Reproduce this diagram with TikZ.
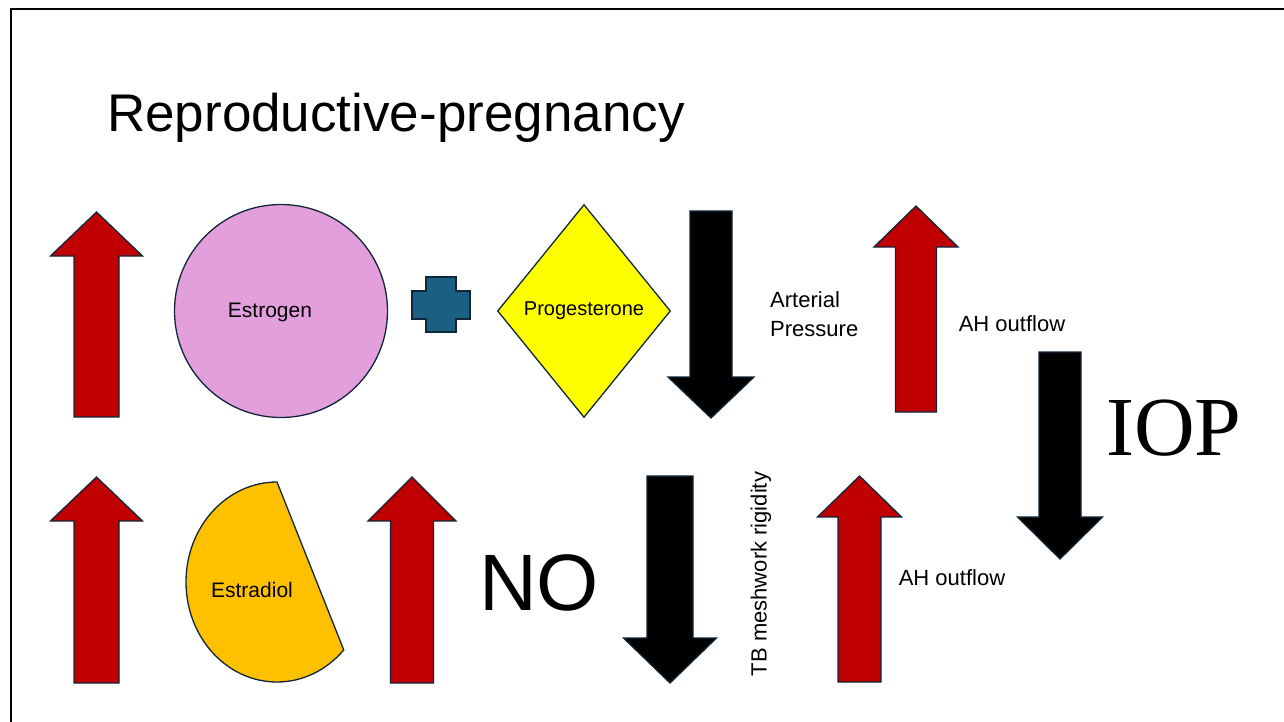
\documentclass[tikz,border=0pt]{standalone}
\usepackage{fontspec}
\setmainfont{Liberation Sans}
\newfontfamily\iopfont{Liberation Serif}
\usepackage{tikz}
\usetikzlibrary{shapes.geometric,positioning}
\usepackage{xcolor}
\definecolor{arrowred}{HTML}{C00000}
\definecolor{edgenavy}{HTML}{10263A}
\definecolor{estrogenpink}{HTML}{E29FDC}
\definecolor{estradiolgold}{HTML}{FFC000}
\definecolor{plusblue}{HTML}{1B6083}
\definecolor{progyellow}{HTML}{FFFF00}

\begin{document}
\begin{tikzpicture}[x=1pt, y=-1pt,
    uparrow/.style={draw=edgenavy, fill=arrowred, line width=1.3pt},
    downarrow/.style={draw=edgenavy, fill=black, line width=1.3pt},
    hormone/.style={draw=edgenavy, line width=1.3pt, align=center, inner sep=1pt, font=\fontsize{21}{24}\selectfont},
    lbl/.style={inner sep=0pt, font=\fontsize{22}{29}\selectfont}
]
\useasboundingbox (0,0) rectangle (1284,722);

% slide frame
\draw[line width=2pt] (10.5,722) -- (10.5,9.5) -- (1284,9.5);

\node[anchor=base west, inner sep=0pt, font=\fontsize{53}{60}\selectfont] (title) at (107,132) {Reproductive-pregnancy};

% red up arrows
\foreach \cx/\ty/\hb/\hh/\hs/\by in {96.5/212/256/46/22.5/417, 96.5/477/521/46/22.5/683, 412/477/521/44/21.5/683, 916/206/247/42/20.5/412, 859.5/476/517/42/21.5/682}
    \draw[uparrow] (\cx-\hs,\by) -- (\cx-\hs,\hb) -- (\cx-\hh,\hb) -- (\cx,\ty) -- (\cx+\hh,\hb) -- (\cx+\hs,\hb) -- (\cx+\hs,\by) -- cycle;

% black down arrows
\foreach \cx/\ty/\hb/\hh/\hs/\tip in {711/211/377/43/21/418, 670/476/638/46.5/23/683, 1060/352/517/42.5/21/559}
    \draw[downarrow] (\cx-\hs,\ty) -- (\cx+\hs,\ty) -- (\cx+\hs,\hb) -- (\cx+\hh,\hb) -- (\cx,\tip) -- (\cx-\hh,\hb) -- (\cx-\hs,\hb) -- cycle;

\node[hormone, circle, fill=estrogenpink, minimum size=213pt] (estrogen) at (281,311) {};
\node[lbl, font=\fontsize{21}{24}\selectfont] (estrogentext) at (270,312) {Estrogen};

% plus sign
\draw[draw=edgenavy, fill=plusblue, line width=1.3pt] (426,277) -- (456,277) -- (456,291) -- (470,291) -- (470,319) -- (456,319) -- (456,332) -- (426,332) -- (426,319) -- (412,319) -- (412,291) -- (426,291) -- cycle;

\node[hormone, diamond, fill=progyellow, inner sep=0pt, minimum width=173pt, minimum height=213pt, font=\fontsize{20}{24}\selectfont] (progesterone) at (584,311) {Progesterone};

% cut ellipse
\draw[draw=edgenavy, fill=estradiolgold, line width=1.3pt] (277,482) arc[start angle=270, end angle=42.8, x radius=91, y radius=100] -- cycle;
\node[lbl, font=\fontsize{21}{24}\selectfont] (estradiol) at (252,590) {Estradiol};

\node[lbl, align=left, anchor=west] (arterial) at (770,314) {Arterial\\Pressure};
\node[lbl] (outflowtop) at (1012,324) {AH outflow};
\node[lbl] (outflowbot) at (952,578) {AH outflow};
\node[lbl, rotate=90] (rigidity) at (761,574) {TB meshwork rigidity};
\node[inner sep=0pt, font=\fontsize{80}{90}\selectfont] (no) at (539,583) {NO};
\node[inner sep=0pt, font=\iopfont\fontsize{84}{90}\selectfont] (iop) at (1174,428) {IOP};

\end{tikzpicture}
\end{document}
